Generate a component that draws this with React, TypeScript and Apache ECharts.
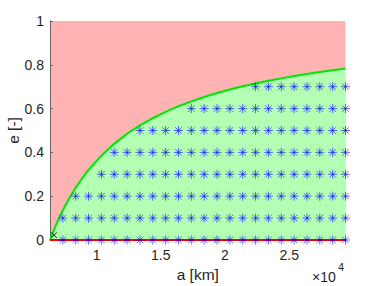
import React, { useEffect, useRef } from 'react';
import * as echarts from 'echarts';

// Semi-major axis grid [km] (R + k*1000)
const aGrid = [
  6378, 7378, 8378, 9378, 10378, 11378, 12378, 13378, 14378, 15378, 16378, 17378,
  18378, 19378, 20378, 21378, 22378, 23378, 24378, 25378, 26378, 27378, 28378, 29378,
];
// Eccentricity rows of the sample grid
const eLevels = [0, 0.1, 0.2, 0.3, 0.4, 0.5, 0.6, 0.7];
// First grid column shown in each row
const firstCol = [1, 1, 2, 4, 5, 7, 11, 16];

// Boundary curve (feasible region upper edge)
const boundaryA = [
  6378, 6450, 6600, 6750, 6900, 7100, 7378, 7650, 7900, 8378, 9000, 9378, 10378,
  11378, 12378, 13378, 14378, 15378, 16378, 17378, 18378, 19378, 20378, 21378,
  22378, 23378, 24378, 25378, 26378, 27378, 28378, 29378,
];
const boundaryE = [
  0, 0.011, 0.034, 0.055, 0.076, 0.102, 0.136, 0.166, 0.193, 0.239, 0.291, 0.32,
  0.385, 0.439, 0.485, 0.523, 0.556, 0.585, 0.611, 0.633, 0.653, 0.671, 0.687,
  0.702, 0.715, 0.727, 0.738, 0.749, 0.758, 0.767, 0.775, 0.783,
];

const blackMark = [[6700, 0.022]];

const xTickValues = [10000, 15000, 20000, 25000];
const xTickLabels = ['1', '1.5', '2', '2.5'];
const yTickLabels = ['0', '0.2', '0.4', '0.6', '0.8', '1'];

const FONT = 'Liberation Sans, Arial, Helvetica, sans-serif';

export default function App() {
  const ref = useRef<HTMLDivElement>(null);

  useEffect(() => {
    if (!ref.current) return;
    const chart = echarts.init(ref.current, undefined, { renderer: 'svg' });

    const markers: number[][] = [];
    eLevels.forEach((e, i) => {
      for (let k = firstCol[i]; k < aGrid.length; k++) markers.push([aGrid[k], e]);
    });
    const curve = boundaryA.map((a, i) => [a, boundaryE[i]]);
    const aMin = aGrid[0];
    const aMax = aGrid[aGrid.length - 1];

    const asterisk = (params: any, api: any) => {
      const p = api.coord([api.value(0), api.value(1)]);
      const r = 4.5;
      const d = 3.2;
      const st = { stroke: '#0000ff', lineWidth: 1, opacity: 0.6 };
      return {
        type: 'group',
        children: [
          { type: 'line', shape: { x1: p[0] - r, y1: p[1], x2: p[0] + r, y2: p[1] }, style: st },
          { type: 'line', shape: { x1: p[0], y1: p[1] - r, x2: p[0], y2: p[1] + r }, style: st },
          { type: 'line', shape: { x1: p[0] - d, y1: p[1] - d, x2: p[0] + d, y2: p[1] + d }, style: st },
          { type: 'line', shape: { x1: p[0] - d, y1: p[1] + d, x2: p[0] + d, y2: p[1] - d }, style: st },
        ],
      };
    };
    const cross = (params: any, api: any) => {
      const p = api.coord([api.value(0), api.value(1)]);
      const d = 2.8;
      const st = { stroke: '#000000', lineWidth: 1, opacity: 0.85 };
      return {
        type: 'group',
        children: [
          { type: 'line', shape: { x1: p[0] - d, y1: p[1] - d, x2: p[0] + d, y2: p[1] + d }, style: st },
          { type: 'line', shape: { x1: p[0] - d, y1: p[1] + d, x2: p[0] + d, y2: p[1] - d }, style: st },
        ],
      };
    };

    chart.setOption({
      animation: false,
      grid: {
        left: 50,
        top: 21,
        width: 295.5,
        height: 219,
        show: true,
        backgroundColor: '#ffb3b3',
        borderWidth: 0,
        containLabel: false,
        outerBoundsMode: 'none',
      },
      xAxis: {
        type: 'value',
        min: aMin,
        max: aMax,
        splitLine: { show: false },
        axisLine: { show: true, lineStyle: { color: '#555', width: 1 } },
        axisTick: {
          show: true,
          inside: true,
          length: 3,
          customValues: xTickValues,
          lineStyle: { color: '#555' },
        },
        axisLabel: {
          customValues: xTickValues,
          formatter: (v: number) => xTickLabels[xTickValues.indexOf(v)] ?? '',
          color: '#262626',
          fontSize: 14,
          fontFamily: FONT,
          margin: 8,
        },
        name: 'a [km]',
        nameLocation: 'middle',
        nameGap: 26,
        nameMoveOverlap: false,
        nameTextStyle: { color: '#262626', fontSize: 15.5, fontFamily: FONT },
      },
      yAxis: {
        type: 'value',
        min: 0,
        max: 1,
        interval: 0.2,
        splitLine: { show: false },
        axisLine: { show: true, lineStyle: { color: '#666', width: 1 } },
        axisTick: { show: true, inside: true, length: 3, lineStyle: { color: '#666' } },
        axisLabel: {
          formatter: (v: number) => yTickLabels[Math.round(v * 5)] ?? '',
          color: '#262626',
          fontSize: 14,
          fontFamily: FONT,
          margin: 6,
        },
        name: 'e [-]',
        nameLocation: 'middle',
        nameGap: 29,
        nameMoveOverlap: false,
        nameTextStyle: { color: '#262626', fontSize: 15.5, fontFamily: FONT },
      },
      series: [
        {
          type: 'line',
          data: curve,
          showSymbol: false,
          smooth: false,
          lineStyle: { width: 0 },
          areaStyle: { color: '#b3ffb3', opacity: 1, origin: 'start' },
          z: 1,
        },
        {
          type: 'line',
          data: curve,
          showSymbol: false,
          lineStyle: { color: '#00e600', width: 2 },
          z: 3,
        },
        {
          type: 'line',
          data: [
            [aMin, 0],
            [aMax, 0],
          ],
          showSymbol: false,
          lineStyle: { color: '#ff0000', width: 2 },
          z: 3,
        },
        {
          type: 'custom',
          data: markers,
          renderItem: asterisk,
          z: 4,
        },
        {
          type: 'custom',
          data: blackMark,
          renderItem: cross,
          z: 5,
        },
      ],
      graphic: [
        {
          type: 'text',
          left: 312,
          top: 270,
          style: { text: '×10', fontSize: 14, fontFamily: FONT, fill: '#262626' },
        },
        {
          type: 'text',
          left: 338,
          top: 261,
          style: { text: '4', fontSize: 11, fontFamily: FONT, fill: '#262626' },
        },
      ],
    });

    return () => chart.dispose();
  }, []);

  return (
    <div
      ref={ref}
      style={{ position: 'fixed', left: 0, top: 0, width: 382, height: 286, background: '#fff' }}
    />
  );
}
